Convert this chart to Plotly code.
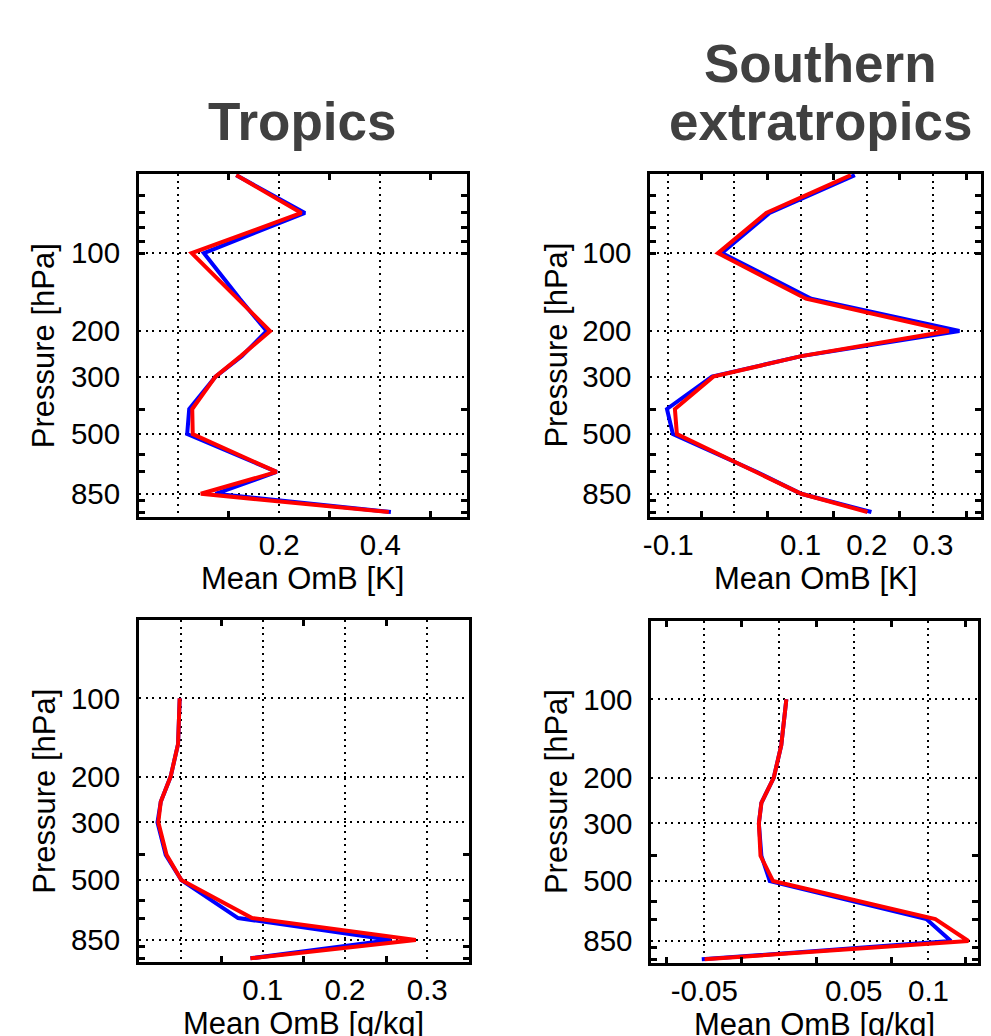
import numpy as np
import plotly.graph_objects as go

# Pressure levels [hPa]
levels_t = [50, 70, 100, 150, 200, 250, 300, 400, 500, 700, 850, 1000]
levels_q = [100, 150, 200, 250, 300, 400, 500, 700, 850, 1000]

# Mean OmB, temperature [K]
tropics_t_blue = [0.115, 0.251, 0.051, 0.122, 0.175, 0.126, 0.074, 0.022, 0.018, 0.195, 0.074, 0.421]
tropics_t_red = [0.115, 0.244, 0.027, 0.118, 0.182, 0.124, 0.074, 0.028, 0.029, 0.195, 0.045, 0.417]
south_t_blue = [0.182, 0.053, -0.019, 0.116, 0.340, 0.101, -0.034, -0.102, -0.093, 0.034, 0.101, 0.207]
south_t_red = [0.176, 0.048, -0.025, 0.108, 0.324, 0.101, -0.032, -0.090, -0.087, 0.034, 0.101, 0.201]

# Mean OmB, specific humidity [g/kg]
tropics_q_blue = [-0.001, -0.003, -0.012, -0.024, -0.028, -0.018, 0.001, 0.070, 0.256, 0.085]
tropics_q_red = [-0.001, -0.003, -0.012, -0.024, -0.027, -0.017, 0.001, 0.087, 0.286, 0.085]
south_q_blue = [0.0049, 0.0015, -0.0035, -0.0118, -0.0135, -0.0118, -0.0062, 0.0986, 0.1150, -0.0517]
south_q_red = [0.0049, 0.0015, -0.0035, -0.0118, -0.0135, -0.0124, -0.0040, 0.1046, 0.1267, -0.0498]

# Axis tick settings
p_ticks = [100, 200, 300, 500, 850]
p_minor_top = [60, 70, 80, 90, 100, 400, 600, 700, 900, 1000]
p_minor_bottom = [400, 600, 700, 900, 1000]

W, H = 991, 1036
FONT = "Liberation Sans, Arial, Helvetica, sans-serif"


def dom_x(a, b):
    return [a / W, b / W]


def dom_y(top, bottom):
    return [1 - bottom / H, 1 - top / H]


panels = [
    dict(series=(levels_t, tropics_t_blue, tropics_t_red), xpx=(133, 463), ypx=(174, 517),
         xr=(-0.0772, 0.571), grid=[0, 0.2, 0.4], labels=["", "0.2", "0.4"],
         minor=[0.1, 0.3, 0.5], pr=(1045, 49.5), pminor=p_minor_top, unit="[K]"),
    dict(series=(levels_t, south_t_blue, south_t_red), xpx=(648, 981), ypx=(174, 517),
         xr=(-0.127, 0.3727), grid=[-0.1, 0, 0.1, 0.2, 0.3], labels=["-0.1", "", "0.1", "0.2", "0.3"],
         minor=[-0.05, 0.05, 0.15, 0.25, 0.35], pr=(1045, 49.5), pminor=p_minor_top, unit="[K]"),
    dict(series=(levels_q, tropics_q_blue, tropics_q_red), xpx=(133, 465), ypx=(620, 962),
         xr=(-0.0504, 0.3504), grid=[0, 0.1, 0.2, 0.3], labels=["", "0.1", "0.2", "0.3"],
         minor=[0.05, 0.15, 0.25], pr=(1033, 50), pminor=p_minor_bottom, unit="[g/kg]"),
    dict(series=(levels_q, south_q_blue, south_q_red), xpx=(649, 978), ypx=(621, 963),
         xr=(-0.0854, 0.1332), grid=[-0.05, 0, 0.05, 0.1], labels=["-0.05", "", "0.05", "0.1"],
         minor=[-0.075, -0.025, 0.025, 0.075, 0.125], pr=(1033, 50), pminor=p_minor_bottom, unit="[g/kg]"),
]

fig = go.Figure()
layout = dict(
    width=W, height=H, autosize=False,
    margin=dict(l=0, r=0, t=0, b=0),
    paper_bgcolor="white", plot_bgcolor="white",
    showlegend=False,
    font=dict(family=FONT, color="black"),
)

grid_style = dict(showgrid=True, gridcolor="black", gridwidth=1.5, griddash="2px,4.6px")
line_style = dict(showline=True, linecolor="black", linewidth=3, mirror="ticks", zeroline=False)
minor_style = dict(ticks="inside", ticklen=6, tickwidth=2.5, tickcolor="black", showgrid=False)
tick_font = dict(size=29.5, family=FONT, color="black")

annotations = []
for i, p in enumerate(panels, start=1):
    sfx = "" if i == 1 else str(i)
    lev, blue, red = p["series"]
    fig.add_trace(go.Scatter(x=blue, y=lev, mode="lines", line=dict(color="#0000ff", width=4),
                             xaxis="x" + sfx, yaxis="y" + sfx))
    fig.add_trace(go.Scatter(x=red, y=lev, mode="lines", line=dict(color="#ff0000", width=4),
                             xaxis="x" + sfx, yaxis="y" + sfx))
    layout["xaxis" + sfx] = dict(
        domain=dom_x(*p["xpx"]), anchor="y" + sfx, range=list(p["xr"]),
        tickmode="array", tickvals=p["grid"], ticktext=p["labels"], ticks="",
        tickfont=tick_font, ticklabelstandoff=0,
        minor=dict(tickvals=p["minor"], **minor_style),
        **grid_style, **line_style,
    )
    layout["yaxis" + sfx] = dict(
        domain=dom_y(*p["ypx"]), anchor="x" + sfx, type="log",
        range=[np.log10(p["pr"][0]), np.log10(p["pr"][1])],
        tickmode="array", tickvals=p_ticks, ticktext=[str(v) for v in p_ticks], ticks="",
        tickfont=tick_font, ticklabelstandoff=10,
        minor=dict(tickvals=p["pminor"], **minor_style),
        **grid_style, **line_style,
    )
    # axis titles
    xc = (p["xpx"][0] + p["xpx"][1]) / 2
    ybot = p["ypx"][1]
    annotations.append(dict(text="Mean OmB " + p["unit"], x=xc / W, y=1 - (ybot + 61) / H,
                            xref="paper", yref="paper", xanchor="center", yanchor="middle",
                            showarrow=False, font=dict(size=31, family=FONT, color="black")))
    yc = (p["ypx"][0] + p["ypx"][1]) / 2
    xt = 37 if p["xpx"][0] < 300 else 553
    annotations.append(dict(text="Pressure [hPa]", x=xt / W, y=1 - yc / H,
                            xref="paper", yref="paper", xanchor="center", yanchor="middle",
                            textangle=-90, showarrow=False,
                            font=dict(size=31, family=FONT, color="black")))

# column titles
title_font = dict(size=53, family=FONT, color="#404040")
for text, x, y in [("Tropics", 298, 122), ("Southern", 819, 63), ("extratropics", 819, 122)]:
    annotations.append(dict(text="<b>%s</b>" % text, x=x / W, y=1 - y / H, xref="paper", yref="paper",
                            xanchor="center", yanchor="middle", showarrow=False, font=title_font))

layout["annotations"] = annotations
fig.update_layout(**layout)
fig.write_html("out.html")
